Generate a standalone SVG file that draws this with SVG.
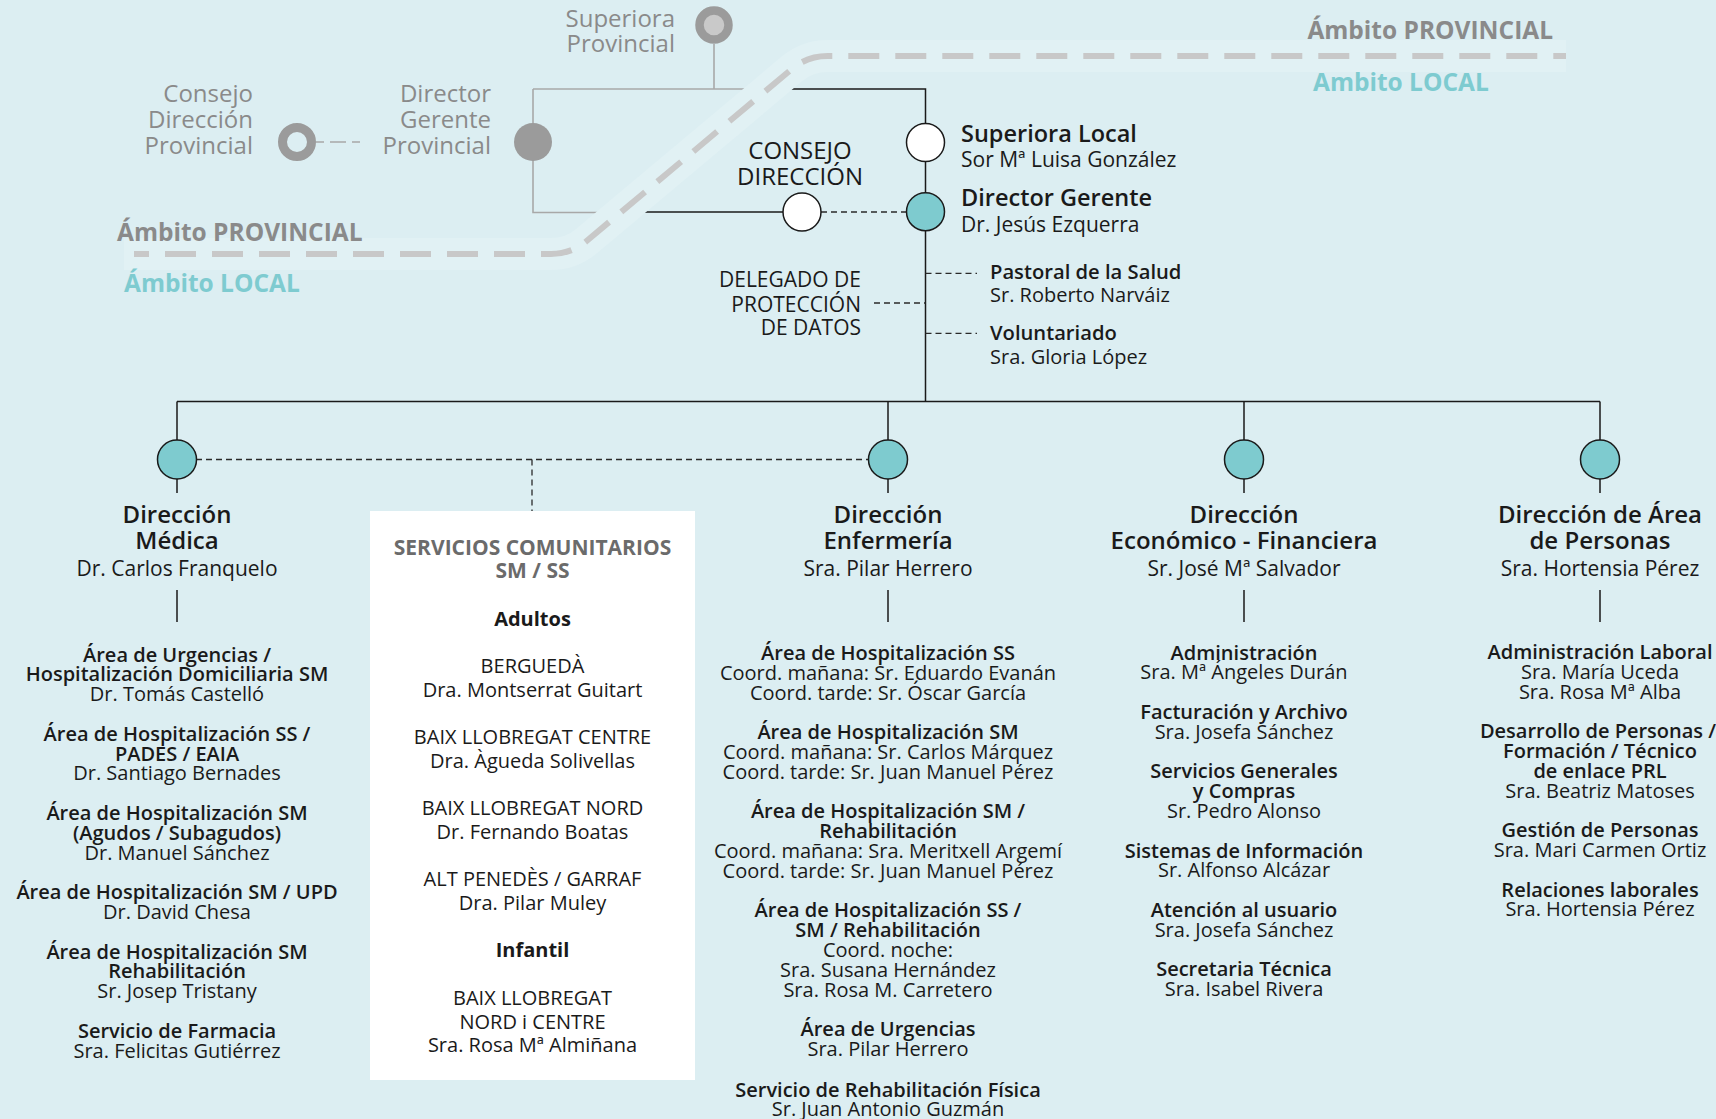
<svg xmlns="http://www.w3.org/2000/svg" width="1716" height="1119" viewBox="0 0 1716 1119">
<style>
text{font-family:"Open Sans","Noto Sans","Liberation Sans",sans-serif;fill:#1a1a1a}
.g{fill:#8a8a8a;font-size:24px}
.amb{font-size:24.5px;font-weight:700}
.ambg{fill:#8a8a8a}
.ambt{fill:#7ecbd0}
.hb{font-size:24px;font-weight:600;text-anchor:middle}
.hr{font-size:21px;text-anchor:middle}
.ib{font-size:20px;font-weight:600;text-anchor:middle}
.ir{font-size:20px;text-anchor:middle}
.bx{font-size:20px;text-anchor:middle}
.bxb{font-size:20px;font-weight:700;text-anchor:middle}
.bxh{font-size:21px;font-weight:700;text-anchor:middle;fill:#6b6b6b}
.top{font-size:23.5px;font-weight:600}
.topr{font-size:21px}
.smb{font-size:20.2px;font-weight:600}
.smr{font-size:20px}
.cap{font-size:24px;font-weight:500;text-anchor:middle}
.del{font-size:21px;text-anchor:end}
.ln{fill:none;stroke:#1a1a1a;stroke-width:1.5}
.lg{fill:none;stroke:#a8a8a8;stroke-width:1.6}
.ld{fill:none;stroke:#2a2a2a;stroke-width:1.3;stroke-dasharray:6 4}
.lgd{fill:none;stroke:#a8a8a8;stroke-width:1.6;stroke-dasharray:8 6 16 6}
.cw{fill:#ffffff;stroke:#1a1a1a;stroke-width:1.5}
.ct{fill:#7ecbcf;stroke:#1a1a1a;stroke-width:1.5}
</style>
<rect x="0" y="0" width="1716" height="1119" fill="#dceef2"/>

<g id="connectors">
  <path class="lg" d="M714,44 V89"/>
  <path class="lg" d="M533,89 H765"/>
  <path class="lg" d="M533,89 V212.5 H622"/>
  <path class="lgd" d="M316,142 H360"/>
  <path class="ln" d="M760,89 H925.5 V401.5"/>
  <path class="ln" d="M618,212 H783"/>
  <path class="ld" d="M821,212 H906"/>
  <path class="ld" d="M925.5,273.3 H977"/>
  <path class="ld" d="M925.5,333.3 H977"/>
  <path class="ld" d="M874,303 H925.5"/>
  <path class="ln" d="M177,401.5 H1600"/>
  <path class="ln" d="M177,401.5 V440 M888,401.5 V440 M1244,401.5 V440 M1600,401.5 V440"/>
  <path class="ln" d="M177,479 V493 M888,479 V493 M1244,479 V493 M1600,479 V493"/>
  <path class="ln" d="M177,590 V622 M888,590 V622 M1244,590 V622 M1600,590 V622"/>
  <path class="ld" d="M196,459.5 H869"/>
  <path class="ld" d="M532,459.5 V511"/>
</g>

<g id="ambito-divider">
  <path d="M124,254 H551 Q571,254 586.3,241.2 L792,68.8 Q807.4,56 827.4,56 H1566" fill="none" stroke="#e1f1f4" stroke-width="32"/>
  <path d="M134,254 H551 Q571,254 586.3,241.2 L792,68.8 Q807.4,56 827.4,56 H1566" fill="none" stroke="#c8c8c8" stroke-width="6" stroke-dasharray="31 16" stroke-dashoffset="16"/>
  <text class="amb ambg" x="117" y="241">Ámbito PROVINCIAL</text>
  <text class="amb ambt" x="124" y="292">Ámbito LOCAL</text>
  <text class="amb ambg" x="1553" y="39" text-anchor="end">Ámbito PROVINCIAL</text>
  <text class="amb ambt" x="1313" y="91">Ambito LOCAL</text>
</g>

<g id="superiora-provincial">
  <circle cx="714" cy="25" r="14.5" fill="#c9c9c9" stroke="#9b9b9b" stroke-width="8.5"/>
  <text class="g" x="675" y="27" text-anchor="end">Superiora</text>
  <text class="g" x="675" y="52" text-anchor="end">Provincial</text>
</g>

<g id="consejo-direccion-provincial">
  <circle cx="297" cy="142" r="14.5" fill="#dceef2" stroke="#9b9b9b" stroke-width="9"/>
  <text class="g" x="253" y="102" text-anchor="end">Consejo</text>
  <text class="g" x="253" y="128" text-anchor="end">Dirección</text>
  <text class="g" x="253" y="154" text-anchor="end">Provincial</text>
</g>

<g id="director-gerente-provincial">
  <circle cx="533" cy="142" r="19" fill="#9b9b9b"/>
  <text class="g" x="491" y="102" text-anchor="end">Director</text>
  <text class="g" x="491" y="128" text-anchor="end">Gerente</text>
  <text class="g" x="491" y="154" text-anchor="end">Provincial</text>
</g>

<g id="superiora-local">
  <circle class="cw" cx="925.5" cy="142.5" r="19"/>
  <text class="top" x="961" y="142">Superiora Local</text>
  <text class="topr" x="961" y="167">Sor Mª Luisa González</text>
</g>

<g id="director-gerente">
  <circle class="ct" cx="925.5" cy="211.7" r="19"/>
  <text class="top" x="961" y="206">Director Gerente</text>
  <text class="topr" x="961" y="232">Dr. Jesús Ezquerra</text>
</g>

<g id="consejo-direccion">
  <circle class="cw" cx="802" cy="212" r="19"/>
  <text class="cap" x="800" y="159">CONSEJO</text>
  <text class="cap" x="800" y="185">DIRECCIÓN</text>
</g>

<g id="pastoral">
  <text class="smb" x="990" y="279">Pastoral de la Salud</text>
  <text class="smr" x="990" y="302">Sr. Roberto Narváiz</text>
</g>

<g id="voluntariado">
  <text class="smb" x="990" y="340">Voluntariado</text>
  <text class="smr" x="990" y="364">Sra. Gloria López</text>
</g>

<g id="delegado">
  <text class="del" x="861" y="287">DELEGADO DE</text>
  <text class="del" x="861" y="311.5">PROTECCIÓN</text>
  <text class="del" x="861" y="335">DE DATOS</text>
</g>

<g id="direccion-medica">
  <circle class="ct" cx="177" cy="459.5" r="19.5"/>
  <text class="hb" x="177" y="522.5">Dirección</text>
  <text class="hb" x="177" y="549">Médica</text>
  <text class="hr" x="177" y="575.5">Dr. Carlos Franquelo</text>
  <text class="ib" x="177" y="661.5">Área de Urgencias /</text>
  <text class="ib" x="177" y="681.3">Hospitalización Domiciliaria SM</text>
  <text class="ir" x="177" y="701.1">Dr. Tomás Castelló</text>
  <text class="ib" x="177" y="740.7">Área de Hospitalización SS /</text>
  <text class="ib" x="177" y="760.5">PADES / EAIA</text>
  <text class="ir" x="177" y="780.3">Dr. Santiago Bernades</text>
  <text class="ib" x="177" y="819.9">Área de Hospitalización SM</text>
  <text class="ib" x="177" y="839.7">(Agudos / Subagudos)</text>
  <text class="ir" x="177" y="859.5">Dr. Manuel Sánchez</text>
  <text class="ib" x="177" y="899.1">Área de Hospitalización SM / UPD</text>
  <text class="ir" x="177" y="918.9">Dr. David Chesa</text>
  <text class="ib" x="177" y="958.5">Área de Hospitalización SM</text>
  <text class="ib" x="177" y="978.3">Rehabilitación</text>
  <text class="ir" x="177" y="998.1">Sr. Josep Tristany</text>
  <text class="ib" x="177" y="1037.7">Servicio de Farmacia</text>
  <text class="ir" x="177" y="1057.5">Sra. Felicitas Gutiérrez</text>
</g>

<g id="servicios-comunitarios">
  <rect x="370" y="511" width="325" height="569" fill="#ffffff"/>
  <text class="bxh" x="532.5" y="554.5">SERVICIOS COMUNITARIOS</text>
  <text class="bxh" x="532.5" y="578.2">SM / SS</text>
  <text class="bxb" x="532.5" y="625.6">Adultos</text>
  <text class="bx" x="532.5" y="673">BERGUEDÀ</text>
  <text class="bx" x="532.5" y="696.7">Dra. Montserrat Guitart</text>
  <text class="bx" x="532.5" y="744.1">BAIX LLOBREGAT CENTRE</text>
  <text class="bx" x="532.5" y="767.8">Dra. Àgueda Solivellas</text>
  <text class="bx" x="532.5" y="815.2">BAIX LLOBREGAT NORD</text>
  <text class="bx" x="532.5" y="838.9">Dr. Fernando Boatas</text>
  <text class="bx" x="532.5" y="886.3">ALT PENEDÈS / GARRAF</text>
  <text class="bx" x="532.5" y="910">Dra. Pilar Muley</text>
  <text class="bxb" x="532.5" y="957.4">Infantil</text>
  <text class="bx" x="532.5" y="1004.8">BAIX LLOBREGAT</text>
  <text class="bx" x="532.5" y="1028.5">NORD i CENTRE</text>
  <text class="bx" x="532.5" y="1052.2">Sra. Rosa Mª Almiñana</text>
</g>

<g id="direccion-enfermeria">
  <circle class="ct" cx="888" cy="459.5" r="19.5"/>
  <text class="hb" x="888" y="522.5">Dirección</text>
  <text class="hb" x="888" y="549">Enfermería</text>
  <text class="hr" x="888" y="575.5">Sra. Pilar Herrero</text>
  <text class="ib" x="888" y="660">Área de Hospitalización SS</text>
  <text class="ir" x="888" y="679.8">Coord. mañana: Sr. Eduardo Evanán</text>
  <text class="ir" x="888" y="699.6">Coord. tarde: Sr. Óscar García</text>
  <text class="ib" x="888" y="739.2">Área de Hospitalización SM</text>
  <text class="ir" x="888" y="759">Coord. mañana: Sr. Carlos Márquez</text>
  <text class="ir" x="888" y="778.8">Coord. tarde: Sr. Juan Manuel Pérez</text>
  <text class="ib" x="888" y="818.4">Área de Hospitalización SM /</text>
  <text class="ib" x="888" y="838.2">Rehabilitación</text>
  <text class="ir" x="888" y="858">Coord. mañana: Sra. Meritxell Argemí</text>
  <text class="ir" x="888" y="877.8">Coord. tarde: Sr. Juan Manuel Pérez</text>
  <text class="ib" x="888" y="917.4">Área de Hospitalización SS /</text>
  <text class="ib" x="888" y="937.2">SM / Rehabilitación</text>
  <text class="ir" x="888" y="957">Coord. noche:</text>
  <text class="ir" x="888" y="976.8">Sra. Susana Hernández</text>
  <text class="ir" x="888" y="996.6">Sra. Rosa M. Carretero</text>
  <text class="ib" x="888" y="1036.2">Área de Urgencias</text>
  <text class="ir" x="888" y="1056">Sra. Pilar Herrero</text>
  <text class="ib" x="888" y="1096.5">Servicio de Rehabilitación Física</text>
  <text class="ir" x="888" y="1116.3">Sr. Juan Antonio Guzmán</text>
</g>

<g id="direccion-economico-financiera">
  <circle class="ct" cx="1244" cy="459.5" r="19.5"/>
  <text class="hb" x="1244" y="522.5">Dirección</text>
  <text class="hb" x="1244" y="549">Económico - Financiera</text>
  <text class="hr" x="1244" y="575.5">Sr. José Mª Salvador</text>
  <text class="ib" x="1244" y="659.5">Administración</text>
  <text class="ir" x="1244" y="679.3">Sra. Mª Ángeles Durán</text>
  <text class="ib" x="1244" y="718.9">Facturación y Archivo</text>
  <text class="ir" x="1244" y="738.7">Sra. Josefa Sánchez</text>
  <text class="ib" x="1244" y="778.3">Servicios Generales</text>
  <text class="ib" x="1244" y="798.1">y Compras</text>
  <text class="ir" x="1244" y="817.9">Sr. Pedro Alonso</text>
  <text class="ib" x="1244" y="857.5">Sistemas de Información</text>
  <text class="ir" x="1244" y="877.3">Sr. Alfonso Alcázar</text>
  <text class="ib" x="1244" y="916.9">Atención al usuario</text>
  <text class="ir" x="1244" y="936.7">Sra. Josefa Sánchez</text>
  <text class="ib" x="1244" y="976.3">Secretaria Técnica</text>
  <text class="ir" x="1244" y="996.1">Sra. Isabel Rivera</text>
</g>

<g id="direccion-personas">
  <circle class="ct" cx="1600" cy="459.5" r="19.5"/>
  <text class="hb" x="1600" y="522.5">Dirección de Área</text>
  <text class="hb" x="1600" y="549">de Personas</text>
  <text class="hr" x="1600" y="575.5">Sra. Hortensia Pérez</text>
  <text class="ib" x="1600" y="659">Administración Laboral</text>
  <text class="ir" x="1600" y="678.8">Sra. María Uceda</text>
  <text class="ir" x="1600" y="698.6">Sra. Rosa Mª Alba</text>
  <text class="ib" x="1598" y="738.2">Desarrollo de Personas /</text>
  <text class="ib" x="1600" y="758">Formación / Técnico</text>
  <text class="ib" x="1600" y="777.8">de enlace PRL</text>
  <text class="ir" x="1600" y="797.6">Sra. Beatriz Matoses</text>
  <text class="ib" x="1600" y="837.2">Gestión de Personas</text>
  <text class="ir" x="1600" y="857">Sra. Mari Carmen Ortiz</text>
  <text class="ib" x="1600" y="896.6">Relaciones laborales</text>
  <text class="ir" x="1600" y="916.4">Sra. Hortensia Pérez</text>
</g>
</svg>
